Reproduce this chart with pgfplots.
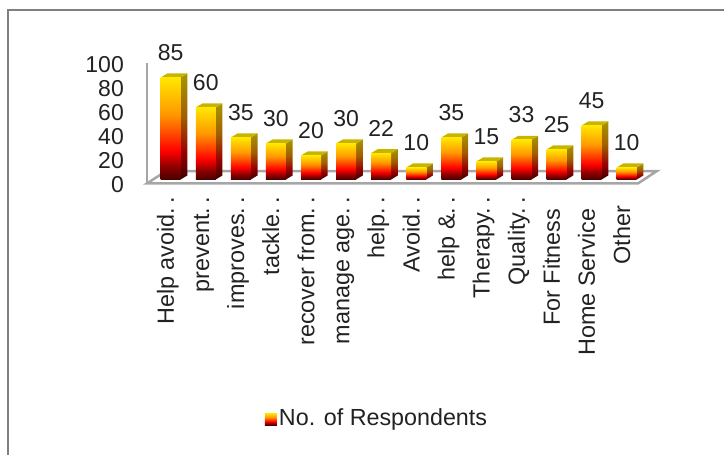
\documentclass[border=0pt]{standalone}
\usepackage{fontspec}
\setmainfont{Liberation Sans}
\usepackage{pgfplots}
\pgfplotsset{compat=1.18}
\definecolor{txt}{HTML}{222222}
\definecolor{wallc}{HTML}{A6A6A6}
\definecolor{framec}{HTML}{808080}
\definecolor{fa}{HTML}{4A0000}
\definecolor{fb}{HTML}{8A0000}
\definecolor{fc}{HTML}{FF0000}
\definecolor{fd}{HTML}{FF9800}
\definecolor{fe}{HTML}{FFE800}
\definecolor{sa}{HTML}{3C0000}
\definecolor{sb}{HTML}{9A0000}
\definecolor{sc}{HTML}{A06000}
\definecolor{sd}{HTML}{A89600}
\definecolor{topc}{HTML}{C8B400}
\pgfdeclareverticalshading{barfront}{100bp}{
  color(0bp)=(fa);
  color(25bp)=(fa);
  color(31bp)=(fb);
  color(39bp)=(fc);
  color(57bp)=(fd);
  color(75bp)=(fe);
  color(100bp)=(fe)}
\pgfdeclareverticalshading{barside}{100bp}{
  color(0bp)=(sa);
  color(25bp)=(sa);
  color(38bp)=(sb);
  color(55bp)=(sc);
  color(75bp)=(sd);
  color(100bp)=(sd)}
\pgfplotsset{frontbar/.style={ybar,bar width=20pt,bar shift=0pt,draw=none,shading=barfront,
  nodes near coords,
  nodes near coords style={anchor=center,yshift=25pt,font=\fontsize{23}{25}\selectfont,text=txt,inner sep=0pt},
  legend image code/.code={\path[shading=barfront] (-3pt,-7pt) rectangle (9pt,5pt);}}}
\newcommand{\barback}[2]{%
  \pgfmathsetmacro{\xl}{#1-0.285}%
  \pgfmathsetmacro{\xr}{#1+0.285}%
  \pgfmathsetmacro{\xb}{#1+0.285+0.191}%
  \pgfmathsetmacro{\xlb}{#1-0.285+0.191}%
  \pgfmathsetmacro{\yb}{#2+3.4}%
  \addplot[forget plot,no marks,draw=none,shading=barside] coordinates {(\xr,0) (\xb,3.4) (\xb,\yb) (\xr,#2)} -- cycle;
  \addplot[forget plot,no marks,draw=none,fill=topc] coordinates {(\xl,#2) (\xr,#2) (\xb,\yb) (\xlb,\yb)} -- cycle;
}
\newcommand{\barfull}[2]{\barback{#1}{#2}\addplot[frontbar,forget plot] coordinates {(#1,#2)};}
\newcommand{\dd}{.\kern4.5pt.}
\begin{document}
\begin{tikzpicture}[x=1pt,y=1pt]
\useasboundingbox (0,0) rectangle (724,455);
\draw[framec,line width=2pt] (8,0) -- (8,444.5) -- (724,444.5);
\begin{axis}[
  at={(147pt,265pt)},anchor=south west,
  scale only axis,width=513pt,height=135pt,
  xmin=-0.6756,xmax=13.948,ymin=-8.75,ymax=103.75,
  clip=false,
  axis line style={draw=none},
  major tick length=0pt,
  /pgf/number format/assume math mode=true,
  xtick={0,1,2,3,4,5,6,7,8,9,10,11,12,13},
  xticklabels={Help avoid\dd,prevent\dd,improves\dd,tackle\dd,recover from\dd,manage age\dd,help\dd,Avoid\dd,help \&\dd,Therapy\dd,Quality\dd,For Fitness\kern12pt,Home Service\kern12pt,Other\kern9pt},
  ytick={0,20,40,60,80,100},
  tick label style={font=\fontsize{23}{25}\selectfont,text=txt,inner sep=0pt},
  xticklabel style={font=\fontsize{23.4}{25}\selectfont,rotate=90,anchor=east,xshift=-6.5pt,yshift=2.7pt,text height=17pt,text depth=5pt},
  yticklabel style={anchor=east,xshift=-23pt,yshift=-5.5pt},
  legend style={draw=none,fill=none,at={(0.4484,-1.689)},anchor=center,
    font=\fontsize{23.3}{25}\selectfont,text=txt,inner sep=0pt},
  legend cell align=left,
]
\addplot[forget plot,no marks,draw=wallc,line width=2.5pt,fill=white] coordinates {(-0.6756,-3.33) (13.32,-3.33) (13.86,7.08) (-0.134,7.08)} -- cycle;
\addplot[forget plot,no marks,draw=wallc,line width=2.5pt] coordinates {(-0.6756,-3.33) (-0.6756,97.1)};
\barback{0}{85}
\addplot[frontbar] coordinates {(0,85)};
\addlegendentry{No. of Respondents}
\barfull{1}{60}\barfull{2}{35}\barfull{3}{30}\barfull{4}{20}\barfull{5}{30}\barfull{6}{22}
\barfull{7}{10}\barfull{8}{35}\barfull{9}{15}\barfull{10}{33}\barfull{11}{25}\barfull{12}{45}\barfull{13}{10}
\end{axis}
\end{tikzpicture}
\end{document}
